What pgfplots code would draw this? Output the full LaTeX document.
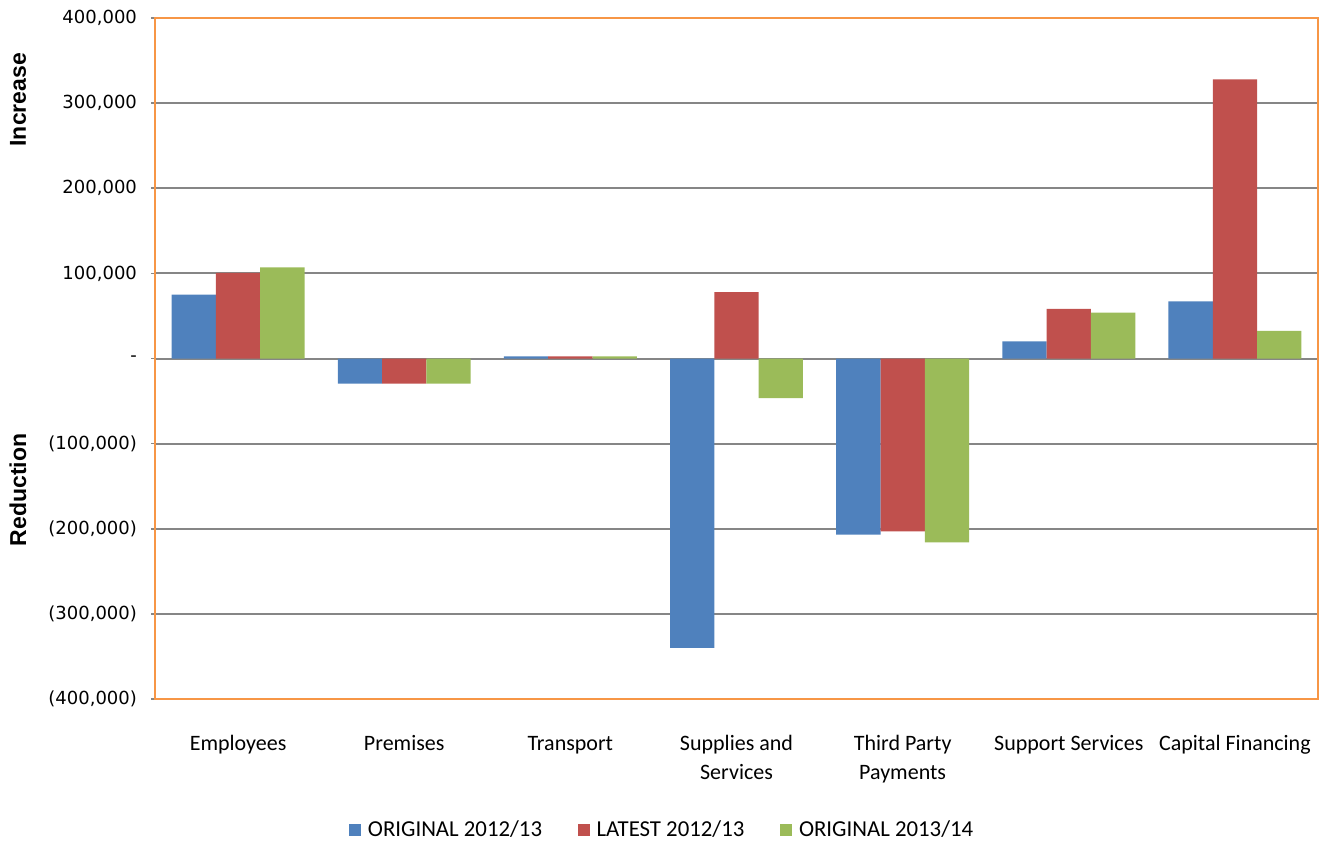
\documentclass[border=0pt]{standalone}
\usepackage{fontspec}
\setmainfont{Carlito}
\newfontfamily\dejavu{DejaVu Sans}
\newfontfamily\libsans{Liberation Sans}
\usepackage{pgfplots}
\pgfplotsset{compat=1.18}

\definecolor{cblue}{HTML}{4F81BD}
\definecolor{cred}{HTML}{C0504D}
\definecolor{cgreen}{HTML}{9BBB59}
\definecolor{corange}{HTML}{F79646}
\definecolor{cgrid}{RGB}{134,134,134}

\begin{document}
\begin{tikzpicture}
\begin{axis}[
  scale only axis, width=581.5pt, height=340.5pt, clip=false,
  ybar, bar width=0.2667,
  xmin=-0.5, xmax=6.5, ymin=-400000, ymax=400000,
  scaled y ticks=false,
  xtick={0,...,6},
  xticklabels={\strut Employees, \strut Premises, \strut Transport,
               {\strut Supplies and\\Services}, {\strut Third Party\\Payments},
               \strut Support Services, \strut Capital Financing},
  xticklabel style={align=center, anchor=north,
                    font=\fontsize{11}{14.5}\selectfont, yshift=-10pt},
  x tick style={draw=none},
  ytick={-400000,-300000,...,400000},
  yticklabels={{(400,000)},{(300,000)},{(200,000)},{(100,000)},{-},
               {100,000},{200,000},{300,000},{400,000}},
  yticklabel style={font=\dejavu\fontsize{9}{10}\selectfont, xshift=-3.5pt},
  y tick style={draw=cgrid, line width=0.8pt},
  tick align=outside, ytick pos=left, major tick length=2pt,
  ymajorgrids, grid style={draw=cgrid, line width=1pt},
  axis line style={draw=corange, line width=1.3pt},
  legend style={at={(0.437,-0.1924)}, anchor=center, draw=none,
                legend columns=3, font=\fontsize{11.4}{13}\selectfont,
                /tikz/every even column/.append style={column sep=16pt}},
  legend image code/.code={\fill[#1] (0pt,-2.9pt) rectangle (5.8pt,2.9pt);
                           \path (7.3pt,0pt);},
]
\addplot[fill=cblue, draw=none, bar shift=-0.2667] coordinates
  {(0,75000) (1,-29500) (2,2500) (3,-340000) (4,-207000) (5,20000) (6,67000)};
\addlegendentry{ORIGINAL 2012/13}
\addplot[fill=cred, draw=none, bar shift=0] coordinates
  {(0,100700) (1,-29500) (2,2500) (3,78000) (4,-203000) (5,58300) (6,328000)};
\addlegendentry{LATEST 2012/13}
\addplot[fill=cgreen, draw=none, bar shift=0.2667] coordinates
  {(0,107000) (1,-29500) (2,2500) (3,-46400) (4,-216000) (5,54000) (6,32500)};
\addlegendentry{ORIGINAL 2013/14}
\node[rotate=90, font=\libsans\bfseries\fontsize{11.5}{12}\selectfont]
  at ([xshift=-68.5pt]rel axis cs:0,0.88) {Increase};
\node[rotate=90, font=\libsans\bfseries\fontsize{11.5}{12}\selectfont]
  at ([xshift=-68.5pt]rel axis cs:0,0.307) {Reduction};
\end{axis}
\path ([xshift=-77.5pt,yshift=-73pt]current axis.south west)
  rectangle ([xshift=4.5pt,yshift=9pt]current axis.north east);
\end{tikzpicture}
\end{document}
